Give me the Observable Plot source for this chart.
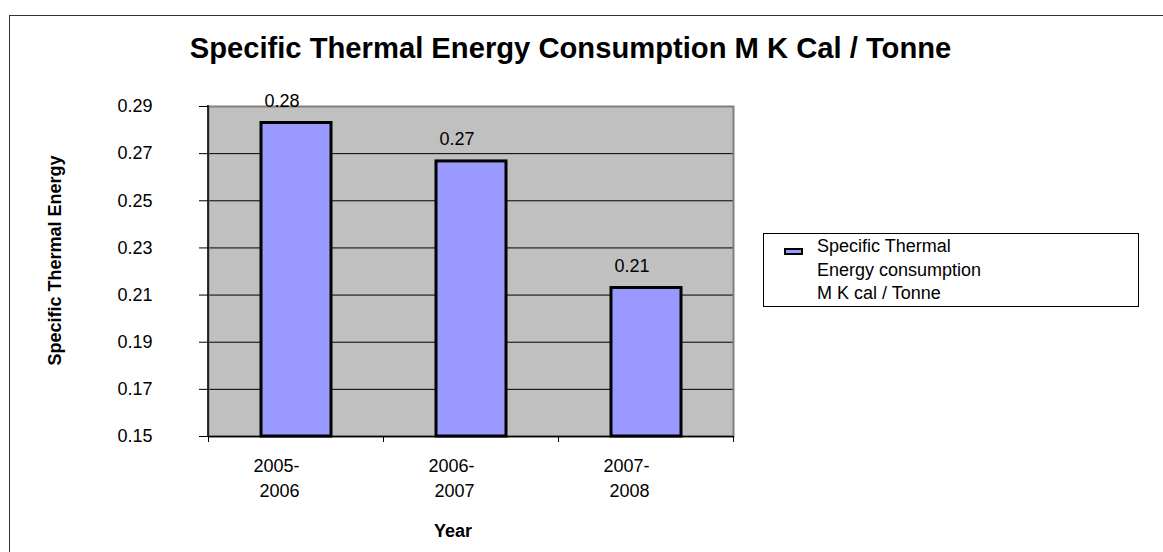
<!DOCTYPE html>
<html><head><meta charset="utf-8">
<script src="https://cdn.jsdelivr.net/npm/d3@7"></script>
<script src="https://cdn.jsdelivr.net/npm/@observablehq/plot@0.6"></script>
<style>
body{margin:0;background:#fff;font-family:"Liberation Sans",Arial,sans-serif;}
#wrap{position:relative;width:1163px;height:552px;overflow:hidden;background:#fff;}
#chart{position:absolute;left:0;top:0;}
#frame{position:absolute;left:9px;top:15px;width:1200px;height:600px;border-left:1px solid #333;border-top:1px solid #333;}
#legend{position:absolute;left:763px;top:233px;width:374px;height:72px;border:1px solid #000;background:#fff;}
#legend .sw{position:absolute;left:20px;top:13.5px;width:15px;height:3px;border:2px solid #000;background:#9999ff;}
#legend .txt{position:absolute;left:53px;top:1px;font-size:18px;line-height:23.6px;color:#000;white-space:nowrap;}
</style></head>
<body><div id="wrap"><div id="frame"></div><div id="chart"></div><div id="legend"><div class="sw"></div><div class="txt"></div></div></div>
<script>
const years = ["2005-2006", "2006-2007", "2007-2008"];
const tickLabels = ["2005-\n2006", "2006-\n2007", "2007-\n2008"];
const values = [0.283, 0.2667, 0.213];
const valueLabels = ["0.28", "0.27", "0.21"];
const yTicks = [0.15, 0.17, 0.19, 0.21, 0.23, 0.25, 0.27, 0.29];
const yLabel = "Specific Thermal Energy";
const xLabel = "Year";
const title = "Specific Thermal Energy Consumption M K Cal / Tonne";
const legendLines = ["Specific Thermal", "Energy consumption", "M K cal / Tonne"];

const data = years.map((y, i) => ({year: y, tick: tickLabels[i], value: values[i], label: valueLabels[i]}));

const chart = Plot.plot({
  width: 1163, height: 552,
  marginLeft: 208, marginRight: 430, marginTop: 106, marginBottom: 116,
  style: {fontFamily: "Liberation Sans, Arial, sans-serif", fontSize: "18px", background: "transparent", color: "#000", overflow: "visible"},
  x: {domain: years, paddingInner: 0.6, paddingOuter: 0.3, axis: null},
  y: {domain: [0.15, 0.29], axis: null},
  marks: [
    Plot.frame({fill: "#c0c0c0"}),
    Plot.ruleY(yTicks.slice(1, -1), {stroke: "#000", strokeWidth: 1}),
    Plot.frame({stroke: "#808080", strokeWidth: 2}),
    Plot.ruleY([0.15], {stroke: "#000", strokeWidth: 1.5}),
    Plot.axisY({ticks: yTicks, label: null, tickSize: 9, tickPadding: 47, tickFormat: d3.format(".2f"), fontSize: 18, stroke: "#000", fill: "#000"}),
    Plot.barY(data, {x: "year", y1: 0.15, y2: "value", fill: "#9999ff", stroke: "#000", strokeWidth: 3}),
    Plot.text(data, {x: "year", y: "value", text: "label", dy: -22, dx: -14.5, fontSize: 18, fill: "#000"}),
    Plot.text(data, {x: "year", text: "tick", frameAnchor: "bottom", lineAnchor: "middle", textAnchor: "end", dx: 3, dy: 39.5, lineHeight: 1.39, fontSize: 18, fill: "#000"}),
    Plot.text([xLabel], {frameAnchor: "bottom", lineAnchor: "middle", dy: 95, dx: -18, fontWeight: "bold", fontSize: 18, fill: "#000"}),
    Plot.text([yLabel], {frameAnchor: "left", textAnchor: "middle", lineAnchor: "middle", rotate: -90, dx: -153, dy: -11, fontWeight: "bold", fontSize: 18, fill: "#000"}),
    Plot.text([title], {frameAnchor: "top", lineAnchor: "middle", dx: 99.5, dy: -57.5, fontWeight: "bold", fontSize: 29.2, fill: "#000"})
  ]
});
document.getElementById("chart").appendChild(chart);

// axis line and category boundary ticks, positioned with Plot's own scales
const svg = d3.select(chart);
const xs = chart.scale("x"), ys = chart.scale("y");
const [x0, x1] = xs.range;
const yb = ys.apply(0.15), yt = ys.apply(0.29);
const n = years.length;
const step = (x1 - x0) / (n - xs.paddingInner + 2 * xs.paddingOuter);
const bw = step * (1 - xs.paddingInner);
const bounds = years.map(y => xs.apply(y) - (step - bw) / 2);
bounds.push(xs.apply(years[n - 1]) + bw + (step - bw) / 2);
svg.append("line").attr("x1", x0).attr("x2", x0).attr("y1", yt - 1).attr("y2", yb + 1).attr("stroke", "#000").attr("stroke-width", 1.5);
svg.append("g").selectAll("line").data(bounds).join("line")
  .attr("x1", d => d).attr("x2", d => d).attr("y1", yb).attr("y2", yb + 6)
  .attr("stroke", "#000").attr("stroke-width", 1);

// legend
const txt = document.querySelector("#legend .txt");
txt.innerHTML = legendLines.map(s => `<div>${s}</div>`).join("");
</script>
</body></html>
